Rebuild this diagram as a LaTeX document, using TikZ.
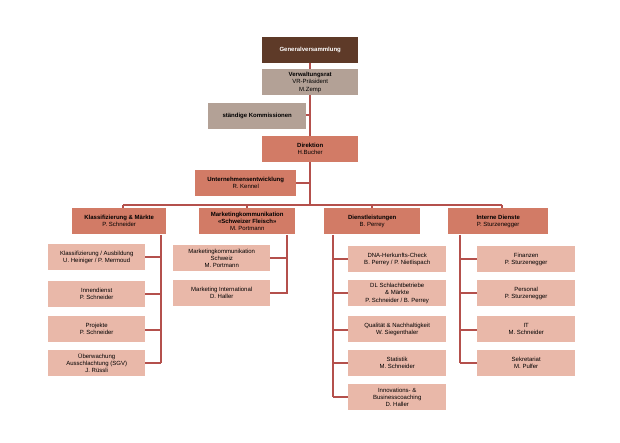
\documentclass[tikz,border=0pt]{standalone}
\usepackage{fontspec}
\setmainfont{Liberation Sans}
\definecolor{dk}{HTML}{5E3A28}
\definecolor{gr}{HTML}{B3A196}
\definecolor{md}{HTML}{D27B66}
\definecolor{lt}{HTML}{E9B8A9}
\definecolor{ln}{HTML}{B4504C}
\begin{document}
\begin{tikzpicture}[x=1pt,y=-1pt,
 bx/.style={inner sep=0pt,align=center,font=\fontsize{6}{7.3}\selectfont,text=black},
 ed/.style={draw=ln,line width=1.1pt}]
\useasboundingbox[fill=white] (0,0) rectangle (620,443);
\newcommand\bxx[6]{\node[bx,fill=#5,minimum width={#3-#2},minimum height=26,anchor=north west] (#1) at (#2,#4) {#6};}
% lines
\draw[ed] (310,62) -- (310,205);
\draw[ed] (123,205) -- (502,205);
\draw[ed] (306,115) -- (310,115);
\draw[ed] (296,183) -- (310,183);
\foreach \x in {123,247,372,502} \draw[ed] (\x,205) -- (\x,212);
\draw[ed] (161,235) -- (161,363);
\foreach \y in {257,294,330,363} \draw[ed] (145,\y) -- (161,\y);
\draw[ed] (287,235) -- (287,293) -- (270,293);
\draw[ed] (287,258) -- (270,258);
\draw[ed] (333,235) -- (333,397);
\foreach \y in {259,293,330,363,397} \draw[ed] (333,\y) -- (348,\y);
\draw[ed] (460,235) -- (460,363);
\foreach \y in {259,293,330,363} \draw[ed] (460,\y) -- (477,\y);
% top
\bxx{gv}{262}{358}{37}{dk}{\textcolor{white}{\bfseries Generalversammlung}}
\bxx{vr}{262}{358}{69}{gr}{\textbf{Verwaltungsrat}\\VR-Präsident\\M.Zemp}
\bxx{sk}{208}{306}{103}{gr}{\textbf{ständige Kommissionen}}
\bxx{di}{262}{358}{136}{md}{\textbf{Direktion}\\H.Bucher}
\bxx{ue}{195}{296}{170}{md}{\textbf{Unternehmensentwicklung}\\R. Kennel}
% level 2
\bxx{km}{72}{166}{208}{md}{\textbf{Klassifizierung \& Märkte}\\P. Schneider}
\bxx{mk}{199}{295}{208}{md}{\textbf{Marketingkommunikation}\\\textbf{«Schweizer Fleisch»}\\M. Portmann}
\bxx{dl}{324}{420}{208}{md}{\textbf{Dienstleistungen}\\B. Perrey}
\bxx{id}{448}{548}{208}{md}{\textbf{Interne Dienste}\\P. Sturzenegger}
% children K
\bxx{k1}{48}{145}{244}{lt}{Klassifizierung / Ausbildung\\U. Heiniger / P. Mermoud}
\bxx{k2}{48}{145}{281}{lt}{Innendienst\\P. Schneider}
\bxx{k3}{48}{145}{316}{lt}{Projekte\\P. Schneider}
\bxx{k4}{48}{145}{350}{lt}{Überwachung\\Ausschlachtung (SGV)\\J. Rüssli}
% children M
\bxx{m1}{173}{270}{245}{lt}{Marketingkommunikation\\Schweiz\\M. Portmann}
\bxx{m2}{173}{270}{280}{lt}{Marketing International\\D. Haller}
% children D
\bxx{d1}{348}{446}{246}{lt}{DNA-Herkunfts-Check\\B. Perrey / P. Nietlispach}
\bxx{d2}{348}{446}{280}{lt}{DL Schlachtbetriebe\\\& Märkte\\P. Schneider / B. Perrey}
\bxx{d3}{348}{446}{316}{lt}{Qualität \& Nachhaltigkeit\\W. Siegenthaler}
\bxx{d4}{348}{446}{350}{lt}{Statistik\\M. Schneider}
\bxx{d5}{348}{446}{384}{lt}{Innovations- \&\\Businesscoaching\\D. Haller}
% children I
\bxx{i1}{477}{575}{246}{lt}{Finanzen\\P. Sturzenegger}
\bxx{i2}{477}{575}{280}{lt}{Personal\\P. Sturzenegger}
\bxx{i3}{477}{575}{316}{lt}{IT\\M. Schneider}
\bxx{i4}{477}{575}{350}{lt}{Sekretariat\\M. Pulfer}
\end{tikzpicture}
\end{document}
